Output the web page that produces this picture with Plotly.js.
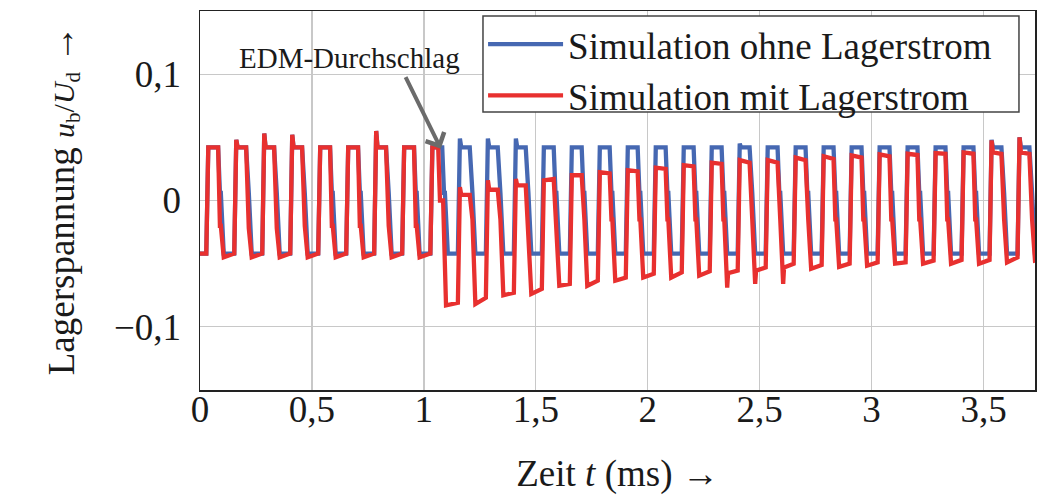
<!DOCTYPE html>
<html>
<head>
<meta charset="utf-8">
<script src="https://cdn.plot.ly/plotly-3.0.1.min.js"></script>
<style>html,body{margin:0;padding:0;background:#fff}#chart{width:1047px;height:495px}</style>
</head>
<body>
<div id="chart"></div>
<script>
// ---- data (time in ms, voltage u_b/U_d) ----
// start time of each pulse's rising edge
const riseT = [0.028,0.153,0.278,0.403,0.528,0.653,0.778,0.903,1.029,1.152,
               1.277,1.402,1.527,1.652,1.777,1.902,2.027,2.152,2.277,2.402,
               2.527,2.652,2.777,2.902,3.027,3.152,3.277,3.402,3.527,3.652];
// Simulation ohne Lagerstrom
const blueHigh = 0.042;
const blueLow = -0.042;
const blueNotch = 0.006;
const bluePeak = [0.042,0.048,0.053,0.052,0.042,0.042,0.055,0.042,0.042,0.049,
                  0.049,0.049,0.042,0.042,0.042,0.042,0.042,0.042,0.042,0.045,
                  0.042,0.042,0.042,0.042,0.042,0.042,0.042,0.042,0.048,0.050];
// Simulation mit Lagerstrom
const redPeak = [0.042,0.048,0.053,0.052,0.042,0.042,0.055,0.042,0.042,0.0105,
                 0.016,0.017,0.016,0.020,0.0225,0.024,0.026,0.028,0.030,0.032,
                 0.032,0.034,0.035,0.0357,0.0365,0.037,0.0375,0.038,0.0476,0.050];
const redHighStart = [0.042,0.042,0.042,0.042,0.042,0.042,0.042,0.042,0.042,0.0045,
                      0.0085,0.012,0.016,0.020,0.0225,0.024,0.026,0.028,0.030,0.032,
                      0.032,0.034,0.035,0.0357,0.0365,0.037,0.0375,0.038,0.038,0.038];
const redHighEnd = [0.042,0.042,0.042,0.042,0.042,0.042,0.042,0.042,0.042,0.0045,
                    0.0085,0.012,0.017,0.020,0.0215,0.023,0.025,0.027,0.029,0.030,
                    0.030,0.032,0.033,0.034,0.035,0.036,0.037,0.037,0.037,0.037];
const redFallT = [0.053,0.053,0.053,0.053,0.053,0.053,0.053,0.053,0.035,0.053,
                  0.053,0.053,0.053,0.053,0.053,0.053,0.053,0.053,0.053,0.053,
                  0.053,0.053,0.053,0.053,0.053,0.053,0.053,0.053,0.053,0.053];
const redNotch = [-0.02,-0.022,-0.022,-0.02,-0.02,-0.02,-0.02,-0.02,0.0,-0.015,
                  -0.015,-0.015,-0.015,-0.015,-0.015,-0.015,-0.015,-0.015,-0.015,-0.015,
                  -0.015,-0.015,-0.015,-0.015,-0.015,-0.015,-0.015,-0.015,-0.015,-0.015];
const redNotchLen = [0.004,0.004,0.004,0.004,0.004,0.004,0.004,0.004,0.014,0.004,
                     0.004,0.004,0.004,0.004,0.004,0.004,0.004,0.004,0.004,0.004,
                     0.004,0.004,0.004,0.004,0.004,0.004,0.004,0.004,0.004,0.004];
const redDip = [null,null,null,null,null,null,null,null,null,null,
                null,null,null,null,null,null,null,null,-0.069,-0.066,
                -0.066,null,null,null,null,null,null,null,null,null];
const redLowStart = [-0.045,-0.045,-0.045,-0.045,-0.045,-0.045,-0.045,-0.045,-0.083,-0.082,
                     -0.075,-0.074,-0.0675,-0.0675,-0.0635,-0.061,-0.061,-0.0595,-0.0575,-0.0555,
                     -0.053,-0.054,-0.0525,-0.0516,-0.050,-0.050,-0.050,-0.050,-0.049,-0.0476];
const redLowEnd = [-0.042,-0.042,-0.042,-0.042,-0.042,-0.042,-0.042,-0.042,-0.081,-0.077,
                   -0.073,-0.070,-0.066,-0.0635,-0.061,-0.058,-0.057,-0.056,-0.0555,-0.053,
                   -0.050,-0.051,-0.050,-0.049,-0.049,-0.0476,-0.047,-0.047,-0.045,-0.045];
const xTickVals = [0,0.5,1,1.5,2,2.5,3,3.5];
const xTickText = ['0','0,5','1','1,5','2','2,5','3','3,5'];
const yTickVals = [-0.1,0,0.1];
const yTickText = ['\u22120,1','0','0,1'];

// ---- build polylines from the per-pulse values ----
function buildBlue(){
  const x=[0], y=[blueLow];
  riseT.forEach((r,k)=>{
    x.push(r); y.push(blueLow);
    x.push(r+0.009); y.push(bluePeak[k]);
    if (bluePeak[k]!==blueHigh){ x.push(r+0.015); y.push(blueHigh); }
    x.push(r+0.053); y.push(blueHigh);
    x.push(r+0.061); y.push(blueNotch);
    x.push(r+0.065); y.push(blueNotch);
    x.push(r+0.078); y.push(blueLow);
  });
  x.push(3.8); y.push(blueLow);
  return {x,y};
}
function buildRed(){
  const x=[0], y=[-0.042];
  riseT.forEach((r,k)=>{
    const prev = k===0 ? -0.042 : redLowEnd[k-1];
    x.push(r); y.push(prev);
    x.push(r+0.009); y.push(redPeak[k]);
    if (redPeak[k]!==redHighStart[k]){ x.push(r+0.015); y.push(redHighStart[k]); }
    const f = r+redFallT[k];
    x.push(f); y.push(redHighEnd[k]);
    x.push(f+0.008); y.push(redNotch[k]);
    x.push(f+0.008+redNotchLen[k]); y.push(redNotch[k]);
    const b = f+0.008+redNotchLen[k]+0.013;
    if (redDip[k]!==null){ x.push(b); y.push(redDip[k]); x.push(b+0.004); y.push(redLowStart[k]); }
    else { x.push(b); y.push(redLowStart[k]); }
  });
  x.push(3.8); y.push(redLowEnd[riseT.length-1]);
  return {x,y};
}
const blue = buildBlue(), red = buildRed();
const FONT = 'Liberation Serif, Times New Roman, serif';

const traces = [
  {x:blue.x, y:blue.y, type:'scatter', mode:'lines', name:'Simulation ohne Lagerstrom',
   line:{color:'#4668b2', width:4.3}},
  {x:red.x, y:red.y, type:'scatter', mode:'lines', name:'Simulation mit Lagerstrom',
   line:{color:'#e8302f', width:4.3}}
];
const layout = {
  width:1047, height:495,
  margin:{l:200, r:12, t:11, b:105},
  paper_bgcolor:'#fff', plot_bgcolor:'#fff',
  font:{family:FONT, size:37, color:'#1a1a1a'},
  showlegend:true,
  legend:{x:0.339, y:0.993, xanchor:'left', yanchor:'top', bgcolor:'rgba(0,0,0,0)',
          borderwidth:0, font:{family:FONT, size:37},
          itemwidth:75, tracegroupgap:0},
  shapes:[
    {type:'rect', xref:'paper', yref:'paper', x0:0.3389, x1:0.9808, y0:0.7335, y1:0.9868,
     fillcolor:'#fff', line:{color:'#444', width:1.5}, layer:'above'}
  ],
  xaxis:{range:[0,3.73], tickvals:xTickVals, ticktext:xTickText, showgrid:true,
         gridcolor:'#c8c8c8', gridwidth:1.3, zeroline:false, showline:true, mirror:true,
         linecolor:'#222', linewidth:1.5, ticks:'', ticklabelstandoff:-14, automargin:false,
         title:{text:'Zeit <i>t</i> (ms) \u2192', font:{family:FONT, size:37}, standoff:35}},
  yaxis:{range:[-0.15,0.15], tickvals:yTickVals, ticktext:yTickText, showgrid:true,
         gridcolor:'#c8c8c8', gridwidth:1.3, zeroline:false, showline:true, mirror:true,
         linecolor:'#222', linewidth:1.5, ticks:'', ticklabelstandoff:10, automargin:false,
         title:{text:'Lagerspannung <span style="font-size:30px"><i>u</i><sub>b</sub>/<i>U</i><sub>d</sub></span> \u2192', font:{family:FONT, size:37}, standoff:28}},
  annotations:[
    {x:0.67, y:0.113, xref:'x', yref:'y', text:'EDM-Durchschlag', showarrow:false,
     font:{family:FONT, size:29, color:'#1a1a1a'}, xanchor:'center', yanchor:'middle'},
    {x:1.076, y:0.041, xref:'x', yref:'y', text:'', showarrow:true, ax:-36, ay:-73,
     arrowcolor:'#6b6b6b', arrowwidth:4, arrowhead:4, arrowsize:1}
  ]
};
Plotly.newPlot('chart', traces, layout, {displayModeBar:false, staticPlot:true});
</script>
</body>
</html>
